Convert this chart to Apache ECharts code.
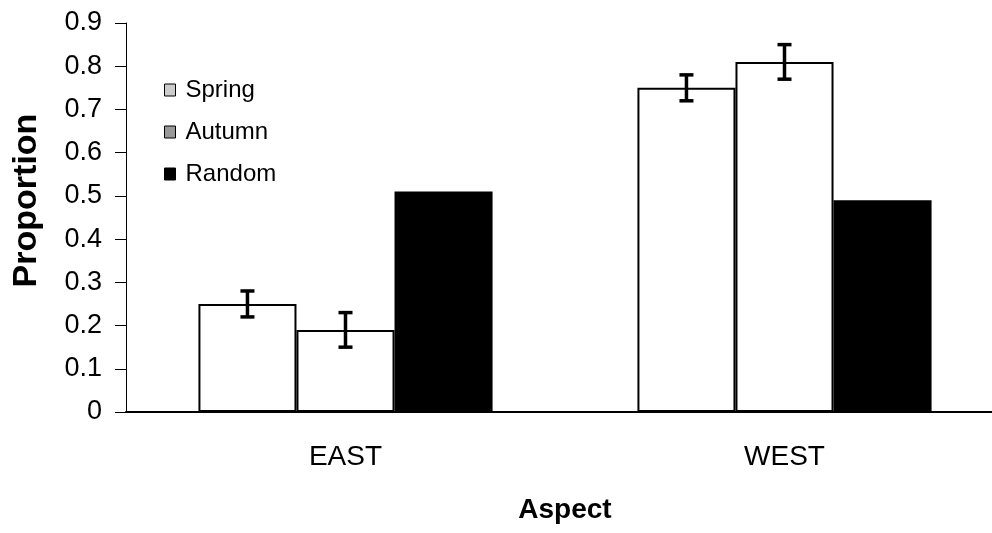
<!DOCTYPE html>
<html>
<head>
<meta charset="utf-8">
<script src="https://cdn.jsdelivr.net/npm/echarts@6/dist/echarts.min.js"></script>
<style>
  html, body { margin: 0; padding: 0; background: #fff; overflow: hidden; }
  #chart { width: 992px; height: 533px; }
</style>
</head>
<body>
<div id="chart"></div>
<script>
const categories = ['EAST', 'WEST'];
const seriesNames = ['Spring', 'Autumn', 'Random'];
const spring = [0.25, 0.75];
const autumn = [0.19, 0.81];
const random = [0.51, 0.49];
const springErr = [0.03, 0.03];
const autumnErr = [0.04, 0.04];
const yTicks = [0, 0.1, 0.2, 0.3, 0.4, 0.5, 0.6, 0.7, 0.8, 0.9];

const FONT = 'Liberation Sans, Arial, sans-serif';
const CAT_GAP = 0.33;

// small checker pattern for the Spring legend swatch
const pat = document.createElement('canvas');
pat.width = 2; pat.height = 2;
const pctx = pat.getContext('2d');
pctx.fillStyle = '#ffffff'; pctx.fillRect(0, 0, 2, 2);
pctx.fillStyle = '#999999'; pctx.fillRect(0, 0, 1, 1); pctx.fillRect(1, 1, 1, 1);

// error bars: [categoryIndex, value, err, barPosition]
const errData = [];
categories.forEach((c, i) => {
  errData.push([i, spring[i], springErr[i], 0]);
  errData.push([i, autumn[i], autumnErr[i], 1]);
});

const chart = echarts.init(document.getElementById('chart'));

const barStyle = (fill) => ({ color: fill, borderColor: '#000', borderWidth: 2 });

chart.setOption({
  animation: false,
  backgroundColor: '#fff',
  grid: { left: 126, top: 23, bottom: 121, width: 878, outerBoundsMode: 'none', containLabel: false },
  legend: {
    orient: 'vertical',
    left: 159,
    top: 73,
    itemWidth: 11,
    itemHeight: 12,
    itemGap: 18,
    icon: 'rect',
    textStyle: { fontFamily: FONT, fontSize: 24, color: '#000', padding: [0, 0, 0, 5] },
    data: [
      { name: 'Spring', itemStyle: { color: { image: pat, repeat: 'repeat' }, borderColor: '#000', borderWidth: 1 } },
      { name: 'Autumn', itemStyle: { color: '#999', borderColor: '#000', borderWidth: 1 } },
      { name: 'Random', itemStyle: { color: '#000', borderColor: '#000', borderWidth: 1 } }
    ]
  },
  xAxis: {
    type: 'category',
    data: categories,
    name: 'Aspect',
    nameLocation: 'middle',
    nameGap: 84,
    nameTextStyle: { fontFamily: FONT, fontSize: 28, fontWeight: 'bold', color: '#000' },
    axisLine: { lineStyle: { color: '#000', width: 2 } },
    axisTick: { show: false },
    axisLabel: { fontFamily: FONT, fontSize: 28, color: '#000', margin: 31 }
  },
  yAxis: {
    type: 'value',
    min: 0,
    max: 0.9,
    interval: 0.1,
    name: 'Proportion',
    nameLocation: 'middle',
    nameGap: 82,
    nameRotate: 90,
    nameTextStyle: { fontFamily: FONT, fontSize: 34, fontWeight: 'bold', color: '#000', padding: [0, 0, 0, 34] },
    axisLine: { show: true, lineStyle: { color: '#000', width: 1 } },
    axisTick: { show: true, length: 11, lineStyle: { color: '#000' } },
    splitLine: { show: false },
    axisLabel: {
      fontFamily: FONT, fontSize: 27, color: '#000', margin: 24,
      formatter: (v) => {
        const t = yTicks.find(x => Math.abs(x - v) < 1e-9);
        return t === undefined ? '' : String(t);
      }
    }
  },
  series: [
    { name: 'Spring', type: 'bar', data: spring, barGap: '0%', barCategoryGap: '33%', itemStyle: barStyle('#fff') },
    { name: 'Autumn', type: 'bar', data: autumn, barGap: '0%', barCategoryGap: '33%', itemStyle: barStyle('#fff') },
    { name: 'Random', type: 'bar', data: random, barGap: '0%', barCategoryGap: '33%', itemStyle: barStyle('#000') },
    {
      type: 'custom',
      data: errData,
      z: 10,
      renderItem: (params, api) => {
        const idx = api.value(0);
        const v = api.value(1);
        const e = api.value(2);
        const pos = api.value(3);
        const catW = api.size([1, 0])[0];
        const barW = catW * (1 - CAT_GAP) / 3;
        const center = api.coord([idx, v]);
        const x = center[0] + (pos - 1) * barW;
        const yHi = api.coord([idx, v + e])[1];
        const yLo = api.coord([idx, v - e])[1];
        const cap = 7;
        const st = { stroke: '#000', lineWidth: 3.5 };
        return {
          type: 'group',
          children: [
            { type: 'line', shape: { x1: x, y1: yHi, x2: x, y2: yLo }, style: st },
            { type: 'line', shape: { x1: x - cap, y1: yHi, x2: x + cap, y2: yHi }, style: st },
            { type: 'line', shape: { x1: x - cap, y1: yLo, x2: x + cap, y2: yLo }, style: st }
          ]
        };
      }
    }
  ]
});
</script>
</body>
</html>
